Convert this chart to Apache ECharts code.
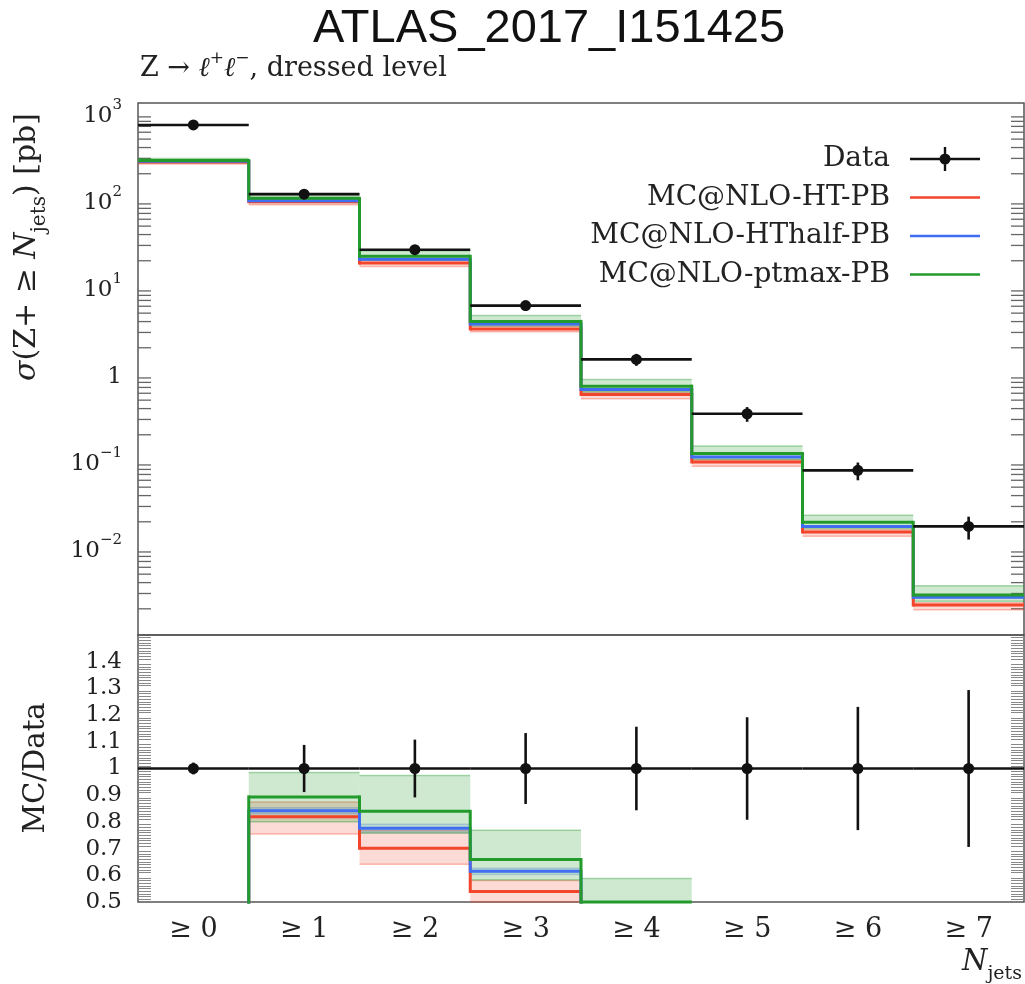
<!DOCTYPE html>
<html>
<head>
<meta charset="utf-8">
<script src="https://cdn.jsdelivr.net/npm/echarts@6/dist/echarts.min.js"></script>
<style>
html, body { margin: 0; padding: 0; background: #fff; }
#chart { width: 1025px; height: 984px; }
</style>
</head>
<body>
<div id="chart"></div>
<script>
// Inclusive jet multiplicity bins
const categories = ['≥ 0', '≥ 1', '≥ 2', '≥ 3', '≥ 4', '≥ 5', '≥ 6', '≥ 7'];

// Measured cross sections [pb] and their total uncertainties
const dataXsec = [727, 116.6, 26.8, 6.1, 1.47, 0.349, 0.078, 0.0177];
const dataErr  = [16, 10.3, 2.9, 0.81, 0.23, 0.067, 0.018, 0.0052];

// MC@NLO-HT-PB prediction with its uncertainty band
const htXsec = [272, 95.5, 18.8, 3.29, 0.582, 0.0975, 0.0153, 0.00221];
const htLow  = [258, 88.0, 17.2, 3.05, 0.52, 0.087, 0.0136, 0.00195];
const htHigh = [280, 102, 20.6, 3.54, 0.62, 0.103, 0.0163, 0.00235];

// MC@NLO-HThalf-PB prediction with its uncertainty band
const hthalfXsec = [278, 98.1, 20.8, 3.75, 0.664, 0.111, 0.0177, 0.00271];
const hthalfLow  = [274, 96.8, 20.4, 3.68, 0.65, 0.109, 0.0174, 0.00266];
const hthalfHigh = [282, 99.5, 21.2, 3.82, 0.678, 0.113, 0.018, 0.00276];

// MC@NLO-ptmax-PB prediction with its uncertainty band
const ptmaxXsec = [283, 104.2, 22.5, 4.02, 0.724, 0.1216, 0.0197, 0.00288];
const ptmaxLow  = [268, 93.3, 20.3, 3.55, 0.62, 0.104, 0.0168, 0.00245];
const ptmaxHigh = [300, 114.8, 26.1, 4.69, 0.865, 0.1486, 0.0238, 0.00369];

// Axis ranges
const xsecRange = [0.001, 1300];
const ratioRange = [0.5, 1.5];

const SERIF = 'DejaVu Serif';
const FRAME = '#555';
const TICK = '#666';
const RED = '#f2452c';
const BLUE = '#3f6ef2';
const GREEN = '#239b2c';

// Ratios to data for the lower panel
const toRatio = arr => arr.map((v, i) => v / dataXsec[i]);
const dataRatio = toRatio(dataXsec);
const dataRatioErr = toRatio(dataErr);

const models = [
  { name: 'MC@NLO-HT-PB', color: RED, band: 'rgba(242,69,44,0.20)', edge: 'rgba(242,69,44,0.35)', xsec: htXsec, lo: htLow, hi: htHigh },
  { name: 'MC@NLO-HThalf-PB', color: BLUE, band: 'rgba(63,110,242,0.14)', edge: 'rgba(63,110,242,0.25)', xsec: hthalfXsec, lo: hthalfLow, hi: hthalfHigh },
  { name: 'MC@NLO-ptmax-PB', color: GREEN, band: 'rgba(35,155,44,0.22)', edge: 'rgba(35,155,44,0.38)', xsec: ptmaxXsec, lo: ptmaxLow, hi: ptmaxHigh }
];

function clampY(y, cs) {
  return Math.min(Math.max(y, cs.y), cs.y + cs.height);
}

// Histogram step line: horizontal bin segment plus vertical connector to the previous bin
function stepRenderer(values, color, lw) {
  return function (params, api) {
    const i = api.value(0);
    const cs = params.coordSys;
    const c = api.coord([i, values[i]]);
    const w = api.size([1, 0])[0];
    const x0 = c[0] - w / 2, x1 = c[0] + w / 2;
    const children = [];
    const y = c[1];
    if (y >= cs.y - 4 && y <= cs.y + cs.height + 4) {
      const yy = clampY(y, cs);
      children.push({ type: 'line', shape: { x1: x0, y1: yy, x2: x1, y2: yy }, style: { stroke: color, lineWidth: lw } });
    }
    if (i > 0) {
      const py = api.coord([i, values[i - 1]])[1];
      const a = clampY(py, cs), b = clampY(y, cs);
      if (Math.abs(a - b) > 0.5) {
        const dir = b > a ? 1 : -1;
        children.push({ type: 'line', shape: { x1: x0, y1: a - dir * lw / 2, x2: x0, y2: b + dir * lw / 2 }, style: { stroke: color, lineWidth: lw } });
      }
    }
    return { type: 'group', children: children };
  };
}

// Uncertainty band of one bin, clipped to the plotting area
function bandRenderer(lo, hi, fill, edge) {
  return function (params, api) {
    const i = api.value(0);
    const cs = params.coordSys;
    const w = api.size([1, 0])[0];
    const cx = api.coord([i, lo[i]])[0];
    const yl = api.coord([i, lo[i]])[1];
    const yh = api.coord([i, hi[i]])[1];
    const top = Math.max(Math.min(yl, yh), cs.y);
    const bot = Math.min(Math.max(yl, yh), cs.y + cs.height);
    if (bot <= top) return { type: 'group', children: [] };
    const x0 = cx - w / 2, x1 = cx + w / 2;
    const children = [
      { type: 'rect', shape: { x: x0, y: top, width: w, height: bot - top }, style: { fill: fill } }
    ];
    [yl, yh].forEach(function (yy) {
      if (yy >= cs.y && yy <= cs.y + cs.height) {
        children.push({ type: 'line', shape: { x1: x0, y1: yy, x2: x1, y2: yy }, style: { stroke: edge, lineWidth: 1.5 } });
      }
    });
    return { type: 'group', children: children };
  };
}

// Data point: bin-wide horizontal bar, vertical error bar and marker
function pointRenderer(vals, errs) {
  return function (params, api) {
    const i = api.value(0);
    const c = api.coord([i, vals[i]]);
    const w = api.size([1, 0])[0];
    const up = api.coord([i, vals[i] + errs[i]])[1];
    const dn = api.coord([i, vals[i] - errs[i]])[1];
    const st = { stroke: '#111', lineWidth: 2.6 };
    return {
      type: 'group',
      children: [
        { type: 'line', shape: { x1: c[0] - w / 2, y1: c[1], x2: c[0] + w / 2, y2: c[1] }, style: st },
        { type: 'line', shape: { x1: c[0], y1: up, x2: c[0], y2: dn }, style: st },
        { type: 'circle', shape: { cx: c[0], cy: c[1], r: 5.5 }, style: { fill: '#111' } }
      ]
    };
  };
}

// Decade sub-divisions (2..9) for the logarithmic axis, drawn on both sides
const logMinorTicks = [];
for (let e = -3; e <= 3; e++) {
  for (let m = 2; m <= 9; m++) {
    const v = m * Math.pow(10, e);
    if (v < xsecRange[1]) logMinorTicks.push(v);
  }
}
function minorTickRenderer(params, api) {
  const cs = params.coordSys;
  const y = api.coord([0, api.value(1)])[1];
  const st = { stroke: TICK, lineWidth: 1.3 };
  return {
    type: 'group',
    children: [
      { type: 'line', shape: { x1: cs.x, y1: y, x2: cs.x + 13, y2: y }, style: st },
      { type: 'line', shape: { x1: cs.x + cs.width - 13, y1: y, x2: cs.x + cs.width, y2: y }, style: st }
    ]
  };
}

function logLabel(v) {
  const lg = Math.log10(v);
  const e = Math.round(lg);
  if (Math.abs(lg - e) > 1e-6) return '';
  if (e === 0) return '{b|1}';
  return '{b|10}{sup|' + (e < 0 ? '\u2212' + (-e) : e) + '}';
}

const binIdx = categories.map((c, i) => i);
const tickStyle = { color: TICK, width: 1.5 };

function xAxisDef(grid, pos, labels) {
  return {
    gridIndex: grid, type: 'category', data: categories, position: pos,
    axisLine: { show: false },
    axisTick: { alignWithLabel: true, inside: true, length: 28, lineStyle: tickStyle },
    axisLabel: labels
      ? { show: true, margin: 14, fontFamily: SERIF, fontSize: 27, color: '#222' }
      : { show: false },
    splitLine: { show: false }
  };
}

function logYAxis(pos, labels) {
  return {
    gridIndex: 0, type: 'log', logBase: 10, min: xsecRange[0], max: xsecRange[1], splitNumber: 6, position: pos,
    axisLine: { show: false },
    splitLine: { show: false },
    axisTick: { inside: true, length: 28, lineStyle: tickStyle },
    axisLabel: labels ? {
      show: true, margin: 16, showMinLabel: false, showMaxLabel: false, formatter: logLabel, color: '#222',
      rich: {
        b: { fontFamily: SERIF, fontSize: 23, color: '#222', lineHeight: 30, verticalAlign: 'bottom' },
        sup: { fontFamily: SERIF, fontSize: 15, color: '#222', lineHeight: 15, verticalAlign: 'top' }
      }
    } : { show: false }
  };
}

function ratioYAxis(pos, labels) {
  return {
    gridIndex: 1, type: 'value', min: ratioRange[0], max: ratioRange[1], interval: 0.1, position: pos,
    axisLine: { show: false },
    splitLine: { show: false },
    axisTick: { inside: true, length: 28, lineStyle: tickStyle },
    minorTick: { show: true, splitNumber: 10, length: 13, lineStyle: { color: '#888', width: 1 } },
    axisLabel: labels ? {
      show: true, margin: 16, showMaxLabel: false, fontFamily: SERIF, fontSize: 23, color: '#222',
      formatter: v => String(Number(v.toFixed(1)))
    } : { show: false }
  };
}

const series = [];
series.push({
  name: 'log minor ticks', type: 'custom', xAxisIndex: 0, yAxisIndex: 0, z: 1, silent: true,
  renderItem: minorTickRenderer, data: logMinorTicks.map(v => [0, v])
});

// Uncertainty bands, upper and lower panels
models.forEach(function (m) {
  series.push({
    name: m.name + ' band', type: 'custom', xAxisIndex: 0, yAxisIndex: 0, z: 2, silent: true,
    renderItem: bandRenderer(m.lo, m.hi, m.band, m.edge), data: binIdx.map(i => [i, m.xsec[i]])
  });
  const rLo = toRatio(m.lo), rHi = toRatio(m.hi);
  series.push({
    name: m.name + ' ratio band', type: 'custom', xAxisIndex: 2, yAxisIndex: 2, z: 2, silent: true,
    renderItem: bandRenderer(rLo, rHi, m.band, m.edge), data: binIdx.map(i => [i, rLo[i]])
  });
});

// Central predictions
models.forEach(function (m, k) {
  series.push({
    name: m.name, type: 'custom', xAxisIndex: 0, yAxisIndex: 0, z: 3 + k,
    itemStyle: { color: m.color },
    renderItem: stepRenderer(m.xsec, m.color, 3), data: binIdx.map(i => [i, m.xsec[i]])
  });
  const r = toRatio(m.xsec);
  series.push({
    name: m.name, type: 'custom', xAxisIndex: 2, yAxisIndex: 2, z: 3 + k,
    itemStyle: { color: m.color },
    renderItem: stepRenderer(r, m.color, 3), data: binIdx.map(i => [i, r[i]])
  });
});

// Measurement
series.push({
  name: 'Data', type: 'custom', xAxisIndex: 0, yAxisIndex: 0, z: 8,
  itemStyle: { color: '#111' },
  renderItem: pointRenderer(dataXsec, dataErr), data: binIdx.map(i => [i, dataXsec[i]])
});
series.push({
  name: 'Data', type: 'custom', xAxisIndex: 2, yAxisIndex: 2, z: 8,
  itemStyle: { color: '#111' },
  renderItem: pointRenderer(dataRatio, dataRatioErr), data: binIdx.map(i => [i, dataRatio[i]])
});

// Legend glyphs: error-bar cross with marker, and a plain line segment
const iconData = 'path://M0,10.8L30,10.8L30,13.2L0,13.2Z M40,10.8L70,10.8L70,13.2L40,13.2Z M33.8,0L36.2,0L36.2,7L33.8,7Z M33.8,17L36.2,17L36.2,24L33.8,24Z M29.5,12A5.5,5.5,0,1,1,40.5,12A5.5,5.5,0,1,1,29.5,12Z';
const iconLine = 'path://M0,0L0.01,0L0,0.01Z M70,24L69.99,24L70,23.99Z M0,10.8L70,10.8L70,13.2L0,13.2Z';

const option = {
  backgroundColor: '#fff',
  animation: false,
  title: {
    text: 'ATLAS_2017_I151425', left: 313, top: 6, padding: 0,
    textStyle: { fontFamily: 'Liberation Sans', fontSize: 47, fontWeight: 'normal', color: '#111' }
  },
  legend: {
    orient: 'vertical', right: 45, top: 144, padding: 0, align: 'right',
    itemWidth: 70, itemHeight: 24, itemGap: 8.5, selectedMode: false,
    textStyle: { fontFamily: SERIF, fontSize: 28, color: '#222', lineHeight: 30, padding: [0, 15, 0, 0] },
    data: [
      { name: 'Data', icon: iconData },
      { name: 'MC@NLO-HT-PB', icon: iconLine },
      { name: 'MC@NLO-HThalf-PB', icon: iconLine },
      { name: 'MC@NLO-ptmax-PB', icon: iconLine }
    ]
  },
  grid: [
    { left: 138, top: 103, width: 886, height: 532, show: true, borderColor: FRAME, borderWidth: 1.5, backgroundColor: 'transparent', containLabel: false },
    { left: 138, top: 635, width: 886, height: 267, show: true, borderColor: FRAME, borderWidth: 1.5, backgroundColor: 'transparent', containLabel: false }
  ],
  xAxis: [
    xAxisDef(0, 'bottom', false),
    xAxisDef(0, 'top', false),
    xAxisDef(1, 'bottom', true),
    xAxisDef(1, 'top', false)
  ],
  yAxis: [
    logYAxis('left', true),
    logYAxis('right', false),
    ratioYAxis('left', true),
    ratioYAxis('right', false)
  ],
  graphic: [
    {
      type: 'text', x: 140, y: 66, silent: true,
      style: {
        text: '{r|Z \u2192 }{m|\u2113}{s|+}{m|\u2113}{s|\u2212}{r|, dressed level}',
        verticalAlign: 'middle', align: 'left',
        rich: {
          r: { fontFamily: SERIF, fontSize: 27, fill: '#222', lineHeight: 32, verticalAlign: 'bottom' },
          m: { fontFamily: SERIF, fontStyle: 'italic', fontSize: 27, fill: '#222', lineHeight: 32, verticalAlign: 'bottom' },
          s: { fontFamily: SERIF, fontSize: 17, fill: '#222', lineHeight: 17, verticalAlign: 'top' }
        }
      }
    },
    {
      type: 'text', x: 31, y: 247, rotation: Math.PI / 2, silent: true,
      style: {
        text: '{i|\u03c3}{r|(Z+ \u2265 }{i|N}{sub|jets}{r|) [pb]}',
        align: 'center', verticalAlign: 'middle',
        rich: {
          r: { fontFamily: SERIF, fontSize: 30, fill: '#222', lineHeight: 37, verticalAlign: 'top' },
          i: { fontFamily: SERIF, fontStyle: 'italic', fontSize: 30, fill: '#222', lineHeight: 37, verticalAlign: 'top' },
          sub: { fontFamily: SERIF, fontSize: 20, fill: '#222', lineHeight: 20, verticalAlign: 'bottom' }
        }
      }
    },
    {
      type: 'text', x: 36, y: 768, rotation: Math.PI / 2, silent: true,
      style: { text: 'MC/Data', align: 'center', verticalAlign: 'middle', fontFamily: SERIF, fontSize: 29, fill: '#222' }
    },
    {
      type: 'text', x: 1022, y: 966, silent: true,
      style: {
        text: '{i|N}{sub|jets}', align: 'right', verticalAlign: 'middle',
        rich: {
          i: { fontFamily: SERIF, fontStyle: 'italic', fontSize: 29, fill: '#222', lineHeight: 36, verticalAlign: 'top' },
          sub: { fontFamily: SERIF, fontSize: 19, fill: '#222', lineHeight: 19, verticalAlign: 'bottom' }
        }
      }
    }
  ],
  series: series
};

const chart = echarts.init(document.getElementById('chart'), null, { renderer: 'canvas' });
chart.setOption(option);
</script>
</body>
</html>
